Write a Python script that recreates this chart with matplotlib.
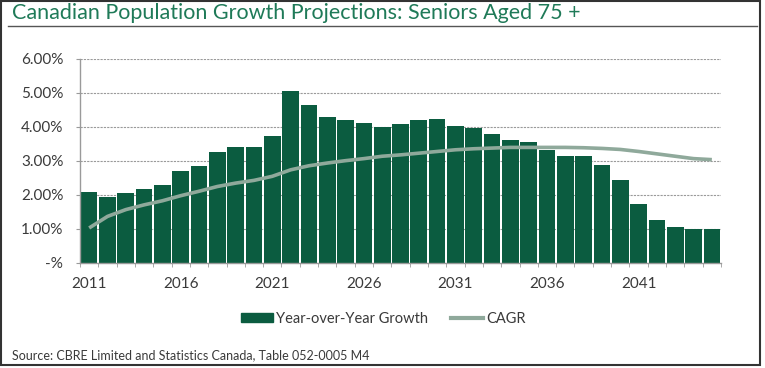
import matplotlib
matplotlib.use("Agg")
import matplotlib.pyplot as plt
from matplotlib.patches import Patch, Rectangle
from matplotlib.lines import Line2D
from matplotlib.ticker import FuncFormatter

plt.rcParams['font.family'] = ['Lato', 'DejaVu Sans']

years = list(range(2011, 2046))
# year-over-year growth (%)
yoy = [2.10, 1.95, 2.05, 2.18, 2.28, 2.70, 2.85, 3.27, 3.42, 3.42,
       3.75, 5.05, 4.65, 4.30, 4.22, 4.13, 3.99, 4.09, 4.21, 4.25,
       4.02, 3.98, 3.79, 3.61, 3.57, 3.33, 3.16, 3.16, 2.88, 2.43,
       1.74, 1.27, 1.06, 1.00, 1.00]
# compound annual growth rate (%)
cagr = [1.03, 1.37, 1.57, 1.71, 1.83, 1.98, 2.11, 2.25, 2.35, 2.43,
        2.55, 2.74, 2.86, 2.94, 3.01, 3.07, 3.14, 3.18, 3.23, 3.28,
        3.33, 3.36, 3.38, 3.40, 3.40, 3.40, 3.40, 3.39, 3.37, 3.34,
        3.28, 3.21, 3.14, 3.07, 3.04]
label_years = [2011, 2016, 2021, 2026, 2031, 2036, 2041]

bar_color = "#0b5c40"
line_color = "#8fa99b"
text_color = "#3a3a3a"

fig = plt.figure(figsize=(7.65, 3.68), dpi=100)
ax = fig.add_axes([80/765, 1-263/368, 641/765, 204/368])

ax.bar(years, yoy, width=0.91, color=bar_color, zorder=2)
ax.plot(years, cagr, color=line_color, lw=2.6, zorder=3, solid_capstyle="butt")

ax.set_xlim(2010.5, 2045.5)
ax.set_ylim(0, 6)
ax.set_yticks([0, 1, 2, 3, 4, 5, 6])
ax.yaxis.set_major_formatter(FuncFormatter(lambda v, p: "-%" if v == 0 else f"{v:.2f}%"))
ax.grid(axis="y", color="#9a9a9a", linestyle=(0, (2, 1)), lw=0.8, zorder=0)

ax.set_xticks(label_years)
ax.set_xticks([y - 0.5 for y in years] + [2045.5], minor=True)
ax.tick_params(axis="x", which="major", length=0, pad=10, labelsize=11, labelcolor=text_color)
ax.tick_params(axis="x", which="minor", length=3, color="#9a9a9a", direction="out")
ax.tick_params(axis="y", length=3, color="#9a9a9a", labelsize=11, labelcolor=text_color, pad=9)

for s in ["top", "right"]:
    ax.spines[s].set_visible(False)
for s in ["left", "bottom"]:
    ax.spines[s].set_color("#9a9a9a")
    ax.spines[s].set_linewidth(1)

# title and underline
fig.text(12/765, 1-13/368, "Canadian Population Growth Projections: Seniors Aged 75 +",
         color="#1f7a58", fontsize=15.5, va="center", ha="left")
fig.add_artist(Line2D([8/765, 757/765], [1-26/368, 1-26/368], color="#555555", lw=1))

# frame
fig.add_artist(Rectangle((1/765, 3/368), 759/765, 364/368, fill=False,
                         edgecolor="#333333", lw=1.5))

handles = [Patch(color=bar_color), Line2D([0], [0], color=line_color, lw=3)]
fig.legend(handles, ["Year-over-Year Growth", "CAGR"], loc="center",
           bbox_to_anchor=(383/765, 1-319/368), ncol=2, frameon=False,
           fontsize=10.5, handlelength=2.2, handleheight=0.6, handletextpad=0.2,
           columnspacing=1.6, labelcolor=text_color)

fig.text(12/765, 1-355/368, "Source: CBRE Limited and Statistics Canada, Table 052-0005 M4",
         fontsize=9, color=text_color, va="center", ha="left")

fig.savefig("out.png", dpi=100)
